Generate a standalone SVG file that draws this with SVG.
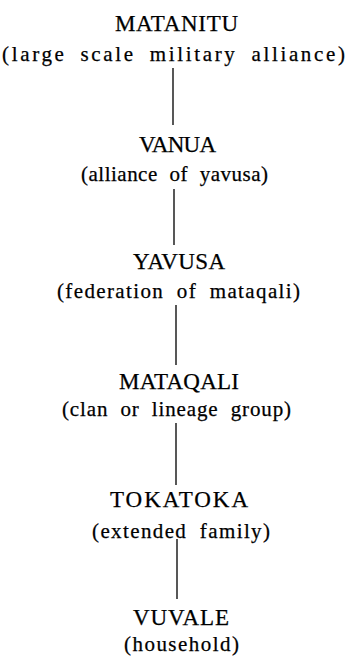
<svg xmlns="http://www.w3.org/2000/svg" width="347" height="656" viewBox="0 0 347 656">
<style>
.t{font-family:"Liberation Serif","Times New Roman",serif;font-size:23px;fill:#000;stroke:#000;stroke-width:0.25}
.s{font-family:"Liberation Serif","Times New Roman",serif;font-size:21px;fill:#000;stroke:#000;stroke-width:0.25;word-spacing:6px}
.c{stroke:#111;stroke-width:1.4;fill:none}
</style>
<rect width="347" height="656" fill="#fff"/>
<g id="matanitu">
<text class="t" x="115" y="31" textLength="123" lengthAdjust="spacing">MATANITU</text>
<text class="s" x="2" y="61" textLength="343" lengthAdjust="spacing">(large scale military alliance)</text>
</g>
<g id="vanua">
<text class="t" x="139" y="152" textLength="77" lengthAdjust="spacing">VANUA</text>
<text class="s" x="81" y="181" textLength="187" lengthAdjust="spacing">(alliance of yavusa)</text>
</g>
<g id="yavusa">
<text class="t" x="133" y="269" textLength="92" lengthAdjust="spacing">YAVUSA</text>
<text class="s" x="57" y="298" textLength="243" lengthAdjust="spacing">(federation of mataqali)</text>
</g>
<g id="mataqali">
<text class="t" x="119" y="389" textLength="120" lengthAdjust="spacing">MATAQALI</text>
<text class="s" x="62" y="416" textLength="229" lengthAdjust="spacing">(clan or lineage group)</text>
</g>
<g id="tokatoka">
<text class="t" x="110" y="507" textLength="138" lengthAdjust="spacing">TOKATOKA</text>
<text class="s" x="92" y="538" textLength="178" lengthAdjust="spacing">(extended family)</text>
</g>
<g id="vuvale">
<text class="t" x="133" y="625" textLength="96" lengthAdjust="spacing">VUVALE</text>
<text class="s" x="124" y="651" textLength="115" lengthAdjust="spacing">(household)</text>
</g>
<g id="connectors">
<line class="c" x1="173" y1="68" x2="173" y2="125"/>
<line class="c" x1="174" y1="189" x2="174" y2="245"/>
<line class="c" x1="176" y1="305" x2="176" y2="365"/>
<line class="c" x1="176" y1="423" x2="176" y2="485"/>
<line class="c" x1="177" y1="539" x2="177" y2="599"/>
</g>
</svg>
